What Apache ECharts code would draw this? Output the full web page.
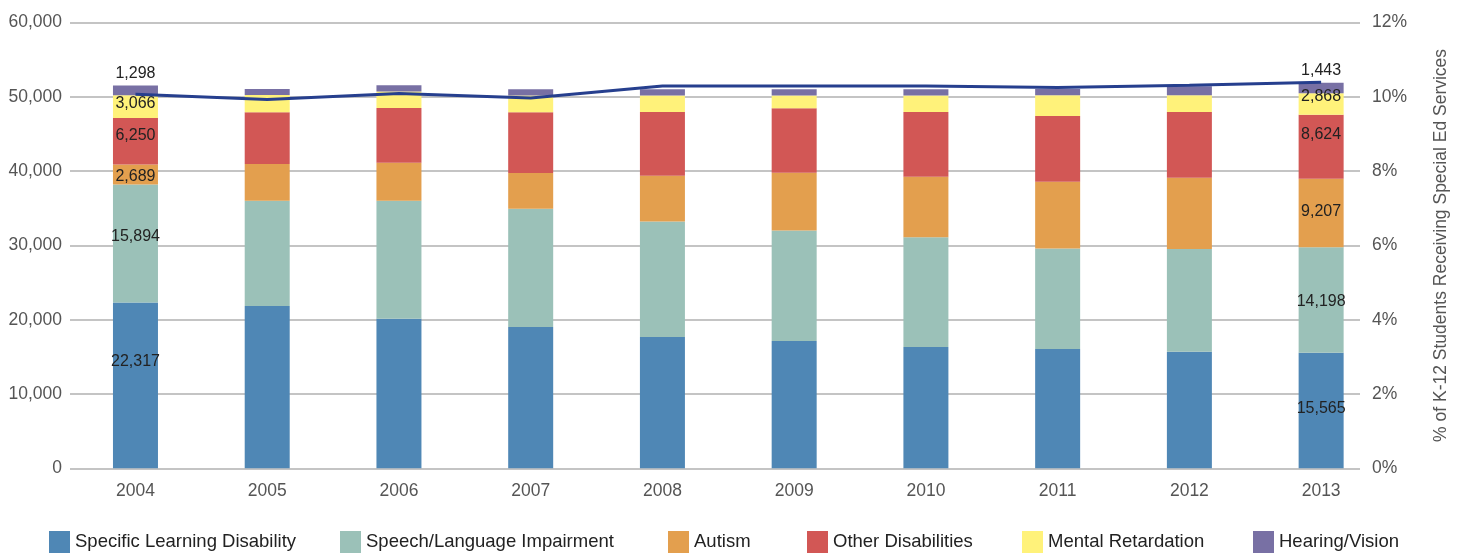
<!DOCTYPE html>
<html>
<head>
<meta charset="utf-8">
<script src="https://cdn.jsdelivr.net/npm/echarts/dist/echarts.min.js"></script>
<style>
  html, body { margin: 0; padding: 0; background: #fff; }
  #chart { width: 1458px; height: 553px; }
</style>
</head>
<body>
<div id="chart"></div>
<script>
// Special education enrollment by disability category, 2004–2013
const years = ['2004', '2005', '2006', '2007', '2008', '2009', '2010', '2011', '2012', '2013'];
const specificLearning = [22317, 21830, 20130, 19010, 17680, 17140, 16340, 16070, 15670, 15565];
const speechLanguage = [15894, 14190, 15890, 15930, 15530, 14860, 14770, 13520, 13830, 14198];
const autism = [2689, 4950, 5090, 4820, 6160, 7770, 8130, 8970, 9600, 9207];
const otherDisabilities = [6250, 6960, 7370, 8170, 8570, 8700, 8700, 8840, 8840, 8624];
const mentalRetardation = [3066, 2320, 2240, 2240, 2240, 1700, 2240, 2810, 2280, 2868];
const hearingVision = [1298, 810, 840, 840, 840, 840, 840, 840, 1200, 1443];
// share of K-12 students receiving special ed services (%)
const pctSpecialEd = [10.07, 9.93, 10.09, 9.97, 10.29, 10.29, 10.29, 10.25, 10.31, 10.39];

const countTicks = [0, 10000, 20000, 30000, 40000, 50000, 60000];
const pctTicks = [0, 2, 4, 6, 8, 10, 12];

const FONT = '"Liberation Sans", Arial, Helvetica, sans-serif';
const fmt = v => String(Math.round(v)).replace(/\B(?=(\d{3})+(?!\d))/g, ',');

// Only the first and last year carry value labels; offsets nudge them within each segment
function withLabels(values, position, offsets) {
  return values.map((v, i) => {
    if (i === 0 || i === values.length - 1) {
      return { value: v, label: { show: true, position: position, offset: [0, offsets[i === 0 ? 0 : 1]] } };
    }
    return v;
  });
}

const labelStyle = {
  show: false,
  color: '#222',
  fontSize: 16,
  fontFamily: FONT,
  distance: 4,
  formatter: p => fmt(p.value)
};

const colors = {
  sld: '#4f87b5',
  speech: '#9bc1b8',
  autism: '#e39f4e',
  other: '#d25755',
  mr: '#fff27a',
  hv: '#7870a4',
  line: '#263f8e'
};

function barSeries(name, values, color, position, offsets) {
  return {
    name: name,
    type: 'bar',
    stack: 'total',
    xAxisIndex: 1,
    yAxisIndex: 2,
    barWidth: 45,
    itemStyle: { color: color },
    label: labelStyle,
    data: withLabels(values, position, offsets)
  };
}

const legendNames = ['Specific Learning Disability', 'Speech/Language Impairment', 'Autism',
  'Other Disabilities', 'Mental Retardation', 'Hearing/Vision'];
const legendLefts = [49, 340, 668, 807, 1022, 1253];

const axisText = { color: '#555', fontSize: 17.5, fontFamily: FONT };

const chart = echarts.init(document.getElementById('chart'), null, { renderer: 'canvas' });

chart.setOption({
  animation: false,
  textStyle: { fontFamily: FONT },
  grid: [
    { left: 70, right: 92, top: 22.5, bottom: 84.7 },
    { left: 69.6, right: 71, top: 22.5, bottom: 84.7 }
  ],
  legend: legendNames.map((n, i) => ({
    data: [n],
    left: legendLefts[i],
    top: 531,
    padding: 0,
    itemWidth: 21,
    itemHeight: 22,
    itemGap: 0,
    selectedMode: false,
    icon: 'rect',
    textStyle: { color: '#222', fontSize: 18.5, fontFamily: FONT }
  })),
  xAxis: [
    { gridIndex: 0, type: 'category', data: years, show: false },
    {
      gridIndex: 1, type: 'category', data: years,
      axisLine: { show: false }, axisTick: { show: false },
      axisLabel: Object.assign({ margin: 14 }, axisText)
    }
  ],
  yAxis: [
    {
      gridIndex: 0, type: 'value', min: countTicks[0], max: countTicks[countTicks.length - 1],
      interval: countTicks[1] - countTicks[0],
      axisLine: { show: false }, axisTick: { show: false },
      axisLabel: Object.assign({ margin: 8, formatter: v => fmt(v) }, axisText),
      splitLine: { lineStyle: { color: '#c4c4c4', width: 2 } }
    },
    {
      gridIndex: 0, type: 'value', position: 'right',
      min: pctTicks[0], max: pctTicks[pctTicks.length - 1], interval: pctTicks[1] - pctTicks[0],
      axisLine: { show: false }, axisTick: { show: false },
      axisLabel: Object.assign({ margin: 12, formatter: '{value}%' }, axisText),
      splitLine: { show: false },
      name: '% of K-12 Students Receiving Special Ed Services',
      nameLocation: 'middle',
      nameRotate: 90,
      nameGap: 72,
      nameTextStyle: { color: '#555', fontSize: 17.5, fontFamily: FONT }
    },
    { gridIndex: 1, type: 'value', min: 0, max: 60000, show: false },
    { gridIndex: 1, type: 'value', min: 0, max: 12, show: false }
  ],
  series: [
    barSeries('Specific Learning Disability', specificLearning, colors.sld, 'inside', [-24, -2]),
    barSeries('Speech/Language Impairment', speechLanguage, colors.speech, 'inside', [-7, 2]),
    barSeries('Autism', autism, colors.autism, 'inside', [2, -1]),
    barSeries('Other Disabilities', otherDisabilities, colors.other, 'inside', [-6, -12]),
    barSeries('Mental Retardation', mentalRetardation, colors.mr, 'inside', [-3, -7]),
    barSeries('Hearing/Vision', hearingVision, colors.hv, 'top', [0, 0]),
    {
      name: '% Receiving Services',
      type: 'line',
      xAxisIndex: 1,
      yAxisIndex: 3,
      symbol: 'none',
      lineStyle: { color: colors.line, width: 3 },
      data: pctSpecialEd,
      z: 5
    }
  ]
});
</script>
</body>
</html>
